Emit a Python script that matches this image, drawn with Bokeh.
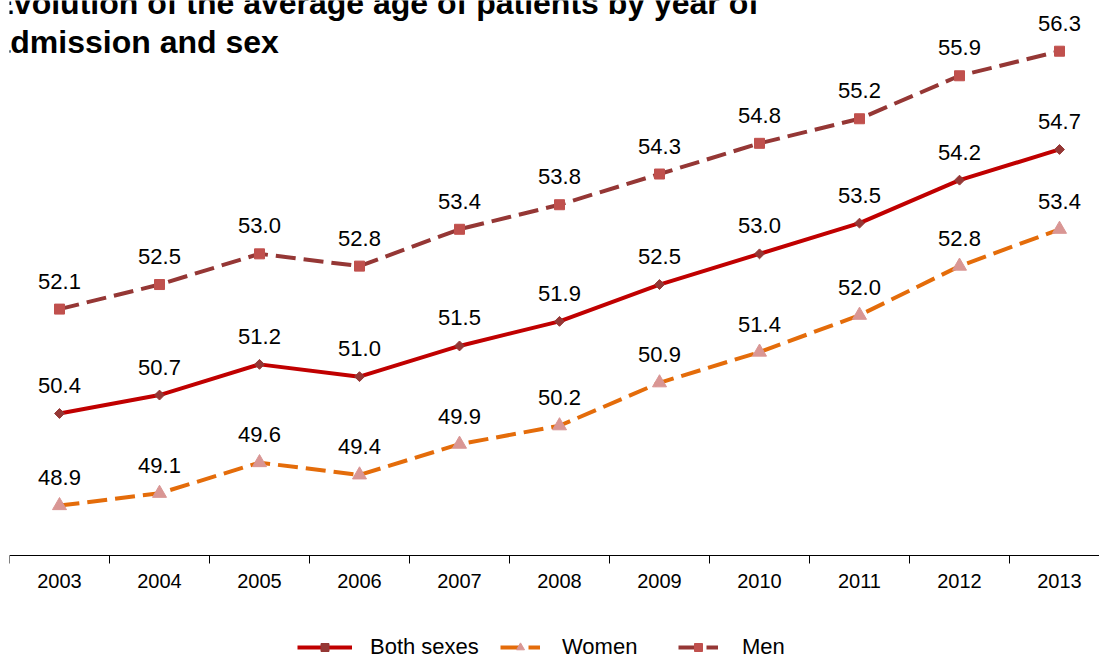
import numpy as np
from bokeh.plotting import figure
from bokeh.models import Range1d, FixedTicker, Label, Legend, LegendItem, ColumnDataSource
from bokeh.embed import file_html
from bokeh.resources import INLINE
from bokeh.core.properties import value

# ---- data ----
years = [2003, 2004, 2005, 2006, 2007, 2008, 2009, 2010, 2011, 2012, 2013]
both = [50.4, 50.7, 51.2, 51.0, 51.5, 51.9, 52.5, 53.0, 53.5, 54.2, 54.7]
women = [48.9, 49.1, 49.6, 49.4, 49.9, 50.2, 50.9, 51.4, 52.0, 52.8, 53.4]
men = [52.1, 52.5, 53.0, 52.8, 53.4, 53.8, 54.3, 54.8, 55.2, 55.9, 56.3]
tick_labels = [str(y) for y in years]
series_names = ["Both sexes", "Women", "Men"]
title_lines = ["Evolution of the average age of patients by year of", "admission and sex"]

FONT = "Liberation Sans"

# styles
BOTH_LINE, BOTH_MK = "#C00000", "#953735"
WOMEN_LINE, WOMEN_MK = "#E46C0A", "#D99694"
MEN_LINE, MEN_MK = "#953735", "#C0504D"
DASH = "20 8"
AXIS_BASE = 48.087  # value where the category axis sits

p = figure(width=1099, height=657, output_backend="svg", toolbar_location=None,
           x_range=Range1d(2002.5, 2013.4), y_range=Range1d(46.426, 57.126),
           y_axis_location=None, title=None,
           min_border_left=9, min_border_right=0, min_border_top=0, min_border_bottom=0)
p.grid.visible = False
p.outline_line_color = None
p.background_fill_color = "white"
p.border_fill_color = "white"

xa = p.xaxis[0]
xa.fixed_location = AXIS_BASE
xa.ticker = FixedTicker(ticks=years, minor_ticks=[y - 0.5 for y in years] + [years[-1] + 0.5])
xa.major_label_overrides = {y: s for y, s in zip(years, tick_labels)}
xa.axis_line_color = "#000000"
xa.axis_line_width = 1
xa.major_tick_line_color = None
xa.major_tick_out = 8
xa.major_tick_in = 0
xa.minor_tick_line_color = "#000000"
xa.minor_tick_out = 8
xa.minor_tick_in = 0
xa.major_label_text_font = FONT
xa.major_label_text_font_size = "20px"
xa.major_label_text_color = "#000000"
xa.major_label_standoff = 10

src = ColumnDataSource(dict(x=years, both=both, women=women, men=men,
                            lb=[f"{v:.1f}" for v in both],
                            lw=[f"{v:.1f}" for v in women],
                            lm=[f"{v:.1f}" for v in men]))

# Men
men_line = p.line("x", "men", source=src, line_color=MEN_LINE, line_width=4, line_dash=DASH)
men_pts = p.scatter("x", "men", source=src, marker="square", size=10, fill_color=MEN_MK, line_color=MEN_MK)
# Women
women_line = p.line("x", "women", source=src, line_color=WOMEN_LINE, line_width=4, line_dash=DASH)
women_pts = p.scatter("x", "women", source=src, marker="triangle", size=14,
                      fill_color=WOMEN_MK, line_color=WOMEN_MK)
# Both
both_line = p.line("x", "both", source=src, line_color=BOTH_LINE, line_width=4)
both_pts = p.scatter("x", "both", source=src, marker="square", angle=np.pi / 4, size=7,
                     fill_color=BOTH_MK, line_color=BOTH_MK)

for col, lab in (("both", "lb"), ("women", "lw"), ("men", "lm")):
    p.text("x", col, text=lab, source=src, text_font=value(FONT), text_font_size="22px",
           text_align="center", text_baseline="alphabetic", y_offset=-28, text_color="#000000")

# Title (left part cut off as in the original)
for t, yy in zip(title_lines, [655, 616]):
    p.add_layout(Label(x=-17, y=yy, x_units="screen", y_units="screen", text=t,
                       text_font=FONT, text_font_style="bold", text_font_size="32px",
                       text_baseline="alphabetic", text_color="#000000"))

# Legend entries at the bottom
leg_specs = [
    (series_names[0], [both_line, both_pts], 288, 55, 18),
    (series_names[1], [women_line, women_pts], 491, 40, 22),
    (series_names[2], [men_line, men_pts], 669, 40, 24),
]
for name, rends, lx, gw, st in leg_specs:
    p.add_layout(Legend(items=[LegendItem(label=name, renderers=rends)], location=(lx, -3),
                        orientation="horizontal", glyph_width=gw, glyph_height=20, label_standoff=st,
                        border_line_color=None, background_fill_alpha=0, padding=0, margin=0,
                        spacing=0, label_text_font=FONT, label_text_font_size="22px",
                        label_text_color="#000000"))

open("out.html", "w").write(file_html(p, INLINE))
